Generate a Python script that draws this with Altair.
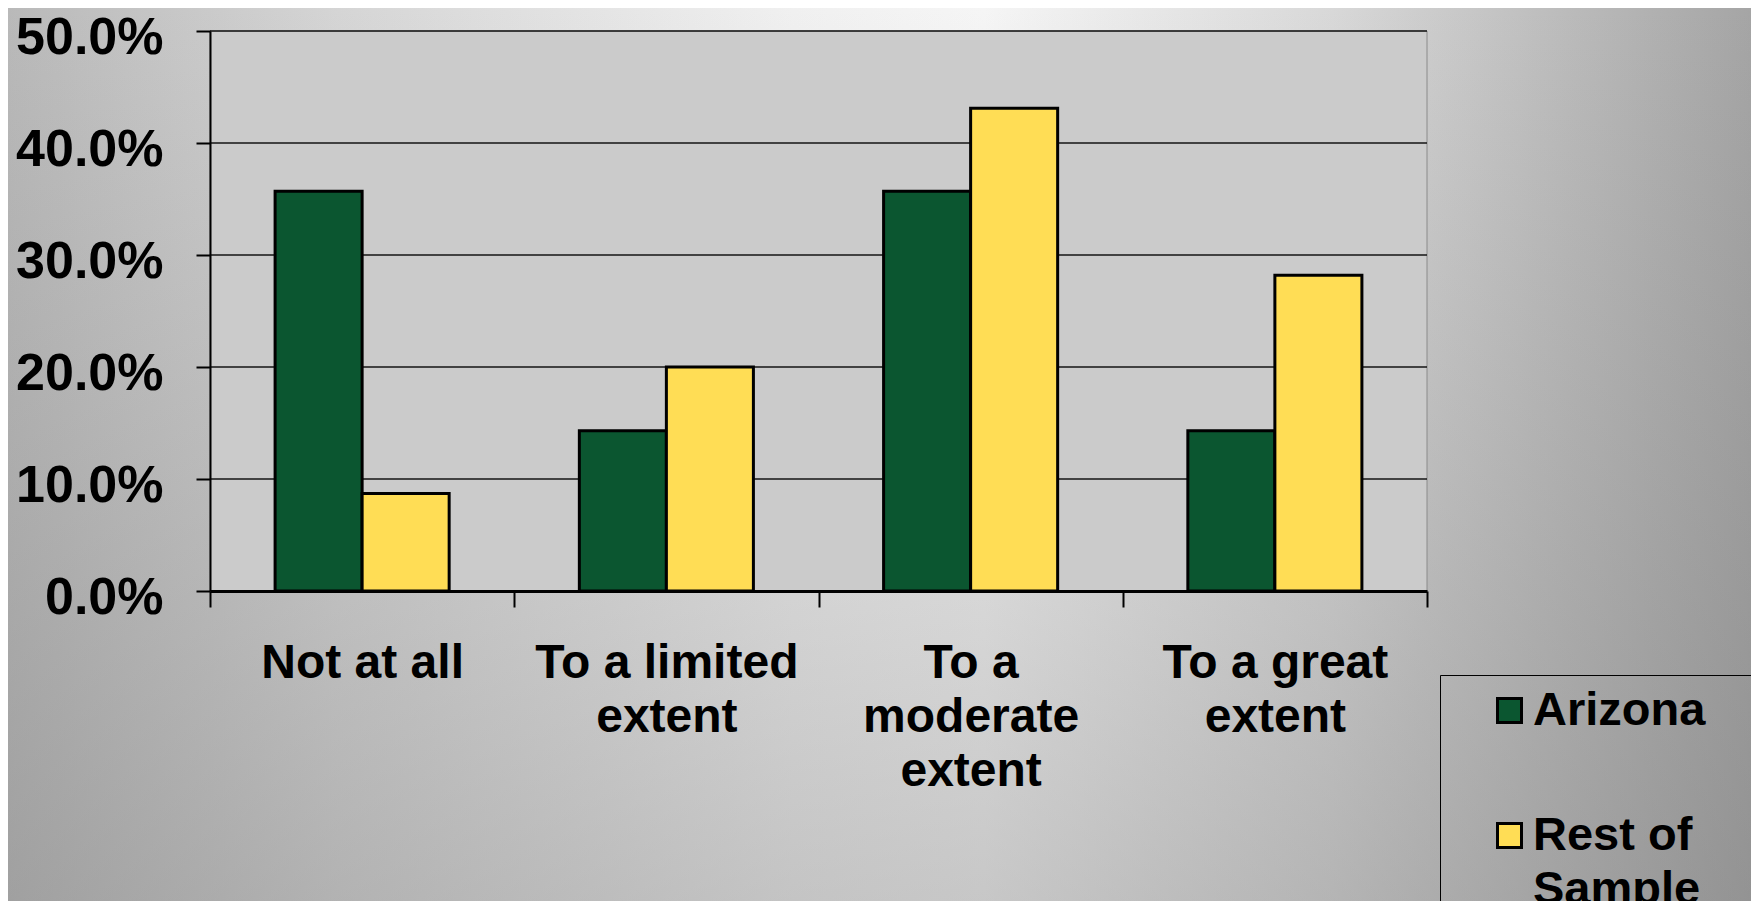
import altair as alt
import pandas as pd

# ---------------- data ----------------
categories = ["Not at all", "To a limited\nextent", "To a\nmoderate\nextent", "To a great\nextent"]
series = ["Arizona", "Rest of Sample"]
arizona = [0.357, 0.143, 0.357, 0.143]
rest_of_sample = [0.087, 0.200, 0.431, 0.282]
y_ticks = [0.0, 0.1, 0.2, 0.3, 0.4, 0.5]
series_colors = ["#0B5630", "#FFDD55"]

rows = []
for c, a, r in zip(categories, arizona, rest_of_sample):
    rows.append({"cat": c, "series": series[0], "value": a})
    rows.append({"cat": c, "series": series[1], "value": r})
df = pd.DataFrame(rows)
grid_df = pd.DataFrame({"v": y_ticks[1:]})

# ---------------- layout ----------------
W, H = 1217, 560
PAD = {"left": 202, "top": 23, "right": 324, "bottom": 310}
FONT = "Liberation Sans"

yscale = alt.Scale(domain=[0, 0.5], nice=False, zero=True)
yaxis = alt.Axis(
    values=y_ticks, format=".1%", grid=False,
    labelFont=FONT, labelFontSize=52, labelFontWeight="bold", labelColor="black",
    labelPadding=33, labelOffset=6, labelLimit=400,
    tickSize=14, tickWidth=2, tickColor="black",
    domainColor="black", domainWidth=2, zindex=1,
)

h_gradient = {
    "gradient": "linear", "x1": 0, "y1": 0, "x2": 1, "y2": 0,
    "stops": [
        {"offset": 0.0, "color": "#B9B9B9"},
        {"offset": 0.19, "color": "#D5D5D5"},
        {"offset": 0.45, "color": "#F0F0F0"},
        {"offset": 0.56, "color": "#F5F5F5"},
        {"offset": 0.76, "color": "#D8D8D8"},
        {"offset": 0.89, "color": "#BCBCBC"},
        {"offset": 1.0, "color": "#A5A5A5"},
    ],
}
v_shade = {
    "gradient": "linear", "x1": 0, "y1": 0, "x2": 0, "y2": 1,
    "stops": [
        {"offset": 0.0, "color": "rgba(114,114,114,0)"},
        {"offset": 1.0, "color": "rgba(114,114,114,0.35)"},
    ],
}

single = pd.DataFrame({"k": [0]})
full_box = dict(
    x=alt.value(-PAD["left"]), x2=alt.value(W + PAD["right"]),
    y=alt.value(-PAD["top"]), y2=alt.value(H + PAD["bottom"]),
)

background = alt.Chart(single).mark_rect(fill=h_gradient).encode(**full_box)
shade = alt.Chart(single).mark_rect(fill=v_shade).encode(**full_box)

plot_bg = alt.Chart(single).mark_rect(fill="#CBCBCB", stroke="#8A8A8A", strokeWidth=1).encode(
    x=alt.value(0), x2=alt.value(W), y=alt.value(0), y2=alt.value(H),
)

grid = alt.Chart(grid_df).mark_rule(color="#151515", strokeWidth=1.6).encode(
    y=alt.Y("v:Q", scale=yscale, axis=yaxis, title=None),
)

bars = alt.Chart(df).mark_bar(stroke="black", strokeWidth=3).encode(
    x=alt.X(
        "cat:N", sort=categories, title=None,
        scale=alt.Scale(paddingInner=0, paddingOuter=0),
        axis=alt.Axis(
            labelAngle=0, labelFont=FONT, labelFontSize=48, labelFontWeight="bold",
            labelColor="black", labelExpr="split(datum.label, '\\n')",
            labelLineHeight=54, labelPadding=32, labelLimit=500,
            tickSize=16, tickWidth=2, tickColor="black", tickBand="extent",
            domainColor="black", domainWidth=3, zindex=1,
        ),
    ),
    xOffset=alt.XOffset("series:N", sort=series,
                        scale=alt.Scale(paddingInner=0, paddingOuter=0.748)),
    y=alt.Y("value:Q", scale=yscale, axis=yaxis, title=None),
    color=alt.Color(
        "series:N",
        scale=alt.Scale(domain=series, range=series_colors),
        legend=alt.Legend(
            title="\u2800", titleOrient="right", titlePadding=50, titleFontSize=8,
            orient="none", legendX=1230, legendY=644,
            strokeColor="black", padding=12, rowPadding=77,
            symbolType="square", symbolSize=576, symbolStrokeColor="black",
            symbolStrokeWidth=3, symbolOffset=34, symbolOpacity=1,
            labelOffset=0, labelFont=FONT, labelFontSize=47, labelFontWeight="bold",
            labelColor="black", labelLimit=600,
            labelExpr="datum.label == 'Rest of Sample' ? ['Rest of', 'Sample'] : datum.label",
        ),
    ),
)

chart = alt.layer(background, shade, plot_bg, grid, bars).properties(
    width=W, height=H, padding=PAD,
    autosize=alt.AutoSizeParams(type="none"),
).configure(
    background="#B8B8B8",
    style={"guide-label": {"lineHeight": 54}},
).configure_view(stroke=None)

chart.save("out.html", embed_options={"renderer": "svg", "actions": False})
